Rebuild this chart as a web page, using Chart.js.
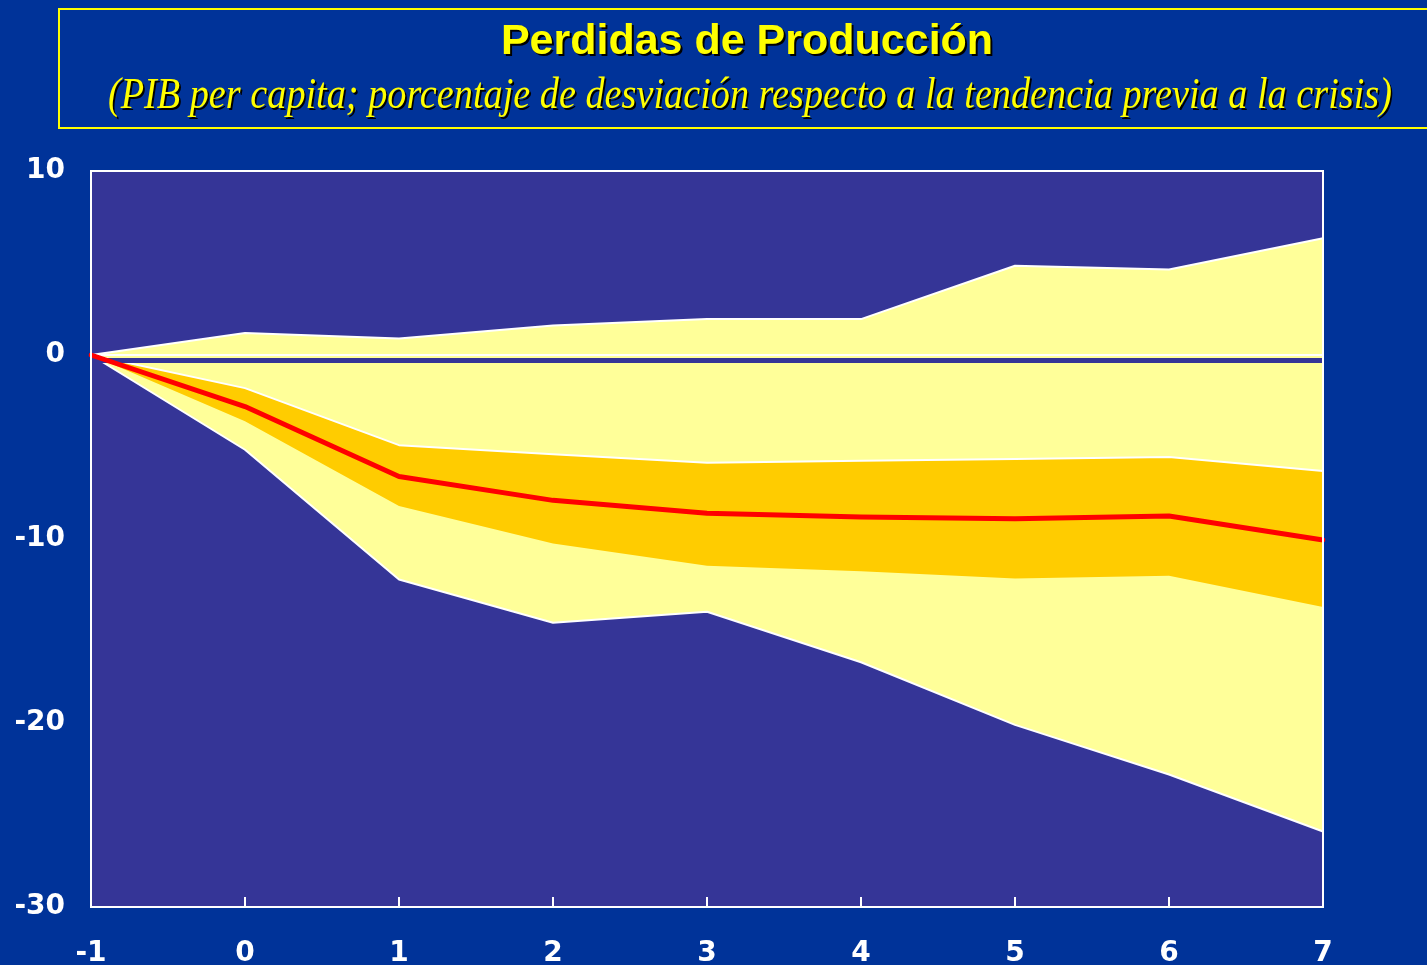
<!DOCTYPE html>
<html>
<head>
<meta charset="utf-8">
<script src="https://cdn.jsdelivr.net/npm/chart.js@4.4.0/dist/chart.umd.min.js"></script>
<style>
  html, body { margin: 0; padding: 0; background: #003399; overflow: hidden; }
  #wrap { position: relative; width: 1427px; height: 965px; }
  #chart { position: absolute; left: 0; top: 0; }
  #titleBox {
    position: absolute; left: 58px; top: 8px; width: 1380px; height: 121px;
    border: 2px solid #ffff00; box-sizing: border-box;
  }
  #title1 {
    position: absolute; left: 247px; width: 1000px; top: 15px; text-align: center;
    font-family: "Liberation Sans", Arial, sans-serif; font-weight: bold; font-size: 43px;
    color: #ffff00; text-shadow: 2px 2px 0 #000;
  }
  #title2 {
    position: absolute; top: 67px; left: 108px; white-space: nowrap;
    font-family: "Liberation Serif", "DejaVu Serif", serif; font-style: italic; font-size: 45px;
    color: #ffff00; text-shadow: 2px 2px 0 #000; transform-origin: 0 0;
  }
</style>
</head>
<body>
<div id="wrap">
  <canvas id="chart" width="1427" height="965"></canvas>
  <div id="titleBox"></div>
  <div id="title1">Perdidas de Producción</div>
  <div id="title2">(PIB per capita; porcentaje de desviación respecto a la tendencia previa a la crisis)</div>
</div>
<script>
// ==================== Data ====================
const years = ["-1", "0", "1", "2", "3", "4", "5", "6", "7"];
const median = [0, -2.8, -6.6, -7.9, -8.6, -8.8, -8.9, -8.75, -10.05];
const innerUpper = [0, -1.8, -4.9, -5.4, -5.85, -5.75, -5.65, -5.55, -6.3];
const innerLower = [0, -3.6, -8.2, -10.25, -11.45, -11.75, -12.15, -12.0, -13.7];
const outerUpper = [0, 1.2, 0.9, 1.6, 1.95, 1.95, 4.85, 4.65, 6.35];
const outerLower = [0, -5.15, -12.2, -14.55, -13.95, -16.7, -20.1, -22.8, -25.9];
const zeroLine = years.map(() => 0);
const stripLine = years.map(() => -0.3);
const yTicks = [10, 0, -10, -20, -30];

const plotBg = "#353597";
const lightYellow = "#ffff99";
const orange = "#ffcc00";

// squeeze the subtitle to the width it has in the slide
const sub = document.getElementById("title2");
sub.style.transform = "scaleX(" + (1284 / sub.offsetWidth).toFixed(4) + ")";

// ==================== Plot area plugin ====================
const plotFrame = {
  id: "plotFrame",
  beforeDraw(chart) {
    const { ctx, chartArea: a } = chart;
    ctx.save();
    ctx.fillStyle = plotBg;
    ctx.fillRect(a.left, a.top, a.right - a.left, a.bottom - a.top);
    ctx.restore();
  },
  afterDraw(chart) {
    const { ctx, chartArea: a } = chart;
    const xs = chart.scales.x;
    ctx.save();
    ctx.strokeStyle = "#ffffff";
    ctx.lineWidth = 2;
    ctx.strokeRect(a.left, a.top, a.right - a.left, a.bottom - a.top);
    ctx.beginPath();
    years.forEach((y, i) => {
      const px = Math.round(xs.getPixelForValue(i));
      ctx.moveTo(px, a.bottom);
      ctx.lineTo(px, a.bottom - 10);
    });
    ctx.stroke();
    ctx.restore();
  }
};

const lineBase = { pointRadius: 0, tension: 0, borderJoinStyle: "round" };

new Chart(document.getElementById("chart").getContext("2d"), {
  type: "line",
  data: {
    labels: years,
    datasets: [
      { ...lineBase, data: median, borderColor: "#ff0000", borderWidth: 5, fill: false, borderCapStyle: "round" },
      { ...lineBase, data: stripLine, borderColor: plotBg, borderWidth: 5, fill: false },
      { ...lineBase, data: zeroLine, borderColor: "#ffffff", borderWidth: 2, fill: false },
      { ...lineBase, data: innerUpper, borderColor: "#ffffff", borderWidth: 2, fill: "+1", backgroundColor: orange },
      { ...lineBase, data: innerLower, borderColor: "rgba(0,0,0,0)", borderWidth: 0, fill: false },
      { ...lineBase, data: outerLower, borderColor: "#ffffff", borderWidth: 2, fill: "origin", backgroundColor: lightYellow },
      { ...lineBase, data: outerUpper, borderColor: "#ffffff", borderWidth: 2, fill: "origin", backgroundColor: lightYellow }
    ]
  },
  options: {
    responsive: false,
    animation: false,
    layout: { padding: { top: 171, right: 104, left: 0, bottom: 0 } },
    plugins: { legend: { display: false }, tooltip: { enabled: false } },
    scales: {
      x: {
        grid: { display: false },
        border: { display: false },
        ticks: {
          color: "#ffffff", padding: 22, maxRotation: 0,
          font: { family: "DejaVu Sans", weight: "bold", size: 28 }
        },
        afterFit(scale) { scale.height = 58; }
      },
      y: {
        min: -30, max: 10,
        grid: { display: false },
        border: { display: false },
        afterBuildTicks(scale) { scale.ticks = yTicks.map(v => ({ value: v })); },
        ticks: {
          color: "#ffffff", padding: 18,
          font: { family: "DejaVu Sans", weight: "bold", size: 28 },
          callback: v => (v < 0 ? "-" + Math.abs(v) : String(v))
        },
        afterFit(scale) { scale.width = 91; }
      }
    }
  },
  plugins: [plotFrame]
});
</script>
</body>
</html>
